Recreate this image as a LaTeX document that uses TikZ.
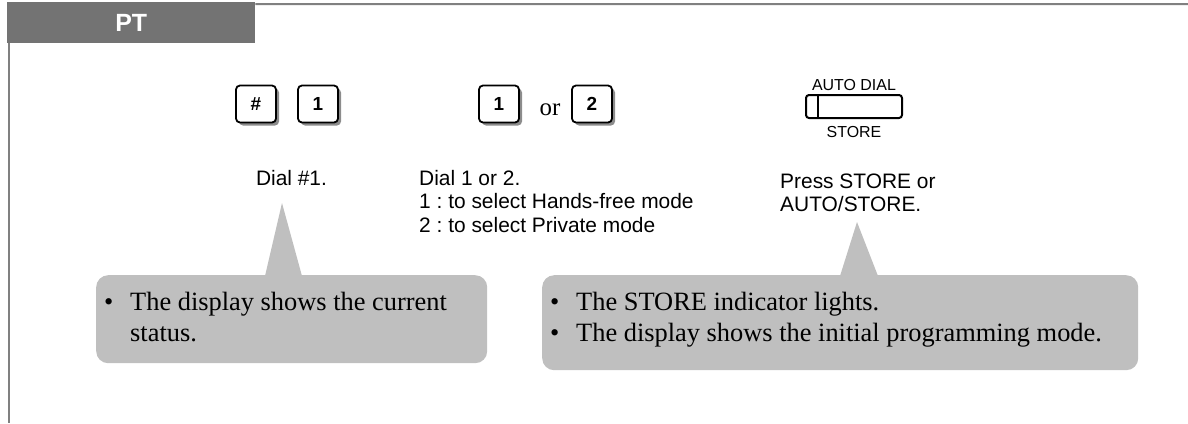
\documentclass[tikz,border=0pt]{standalone}
\usepackage{fontspec}
\setmainfont{Liberation Serif}
\setsansfont{Liberation Sans}
\usepackage{tikz}
\usetikzlibrary{shadows,calc}
\definecolor{headgray}{HTML}{737373}
\definecolor{rulegray}{HTML}{808080}
\definecolor{notegray}{HTML}{BFBFBF}
\definecolor{shadegray}{HTML}{8C8C8C}
\newcommand{\bul}{\makebox[26bp][l]{\textbullet}}
\tikzset{
  key/.style={draw=black, line width=1.8bp, rounded corners=4bp, fill=white, minimum width=40bp, minimum height=37bp, inner sep=0pt, font=\fontsize{19}{19}\selectfont\sffamily\bfseries, drop shadow={shadow xshift=3bp, shadow yshift=-3bp, fill=shadegray, opacity=1}},
  lbl/.style={font=\fontsize{21}{23.5}\selectfont\sffamily, inner sep=0pt},
  small/.style={font=\fontsize{16}{16}\selectfont\sffamily, inner sep=0pt},
  note/.style={fill=notegray, rounded corners=12bp, inner sep=0pt},
  notetxt/.style={font=\fontsize{26.5}{32}\selectfont\rmfamily, inner sep=0pt},
  rule/.style={draw=rulegray, line width=2bp},
}

\begin{document}
\frenchspacing
\begin{tikzpicture}[x=1bp,y=-1bp]
  \useasboundingbox (0,0) rectangle (1188,423);
  % header tab and frame
  \node[fill=headgray, minimum width=248bp, minimum height=41bp, anchor=north west, inner sep=0pt, text=white, font=\fontsize{25}{25}\selectfont\sffamily\bfseries] (head) at (7,2) {PT};
  \draw[rule] ([yshift=-2bp]head.north east) -- (1188,4);
  \draw[rule] ([xshift=2bp]head.south west) -- ++(0,380);
  % keys
  \node[key] (hash) at (256,104) {\#};
  \node[key] (one) at (318,104) {1};
  \node[key] (onebis) at (499,104) {1};
  \node[font=\fontsize{25}{25}\selectfont\rmfamily, inner sep=0pt, anchor=base] (or) at (550,115) {or};
  \node[key] (two) at (592,104) {2};
  % AUTO DIAL / STORE button
  \node[draw, line width=2bp, rounded corners=3bp, minimum width=96bp, minimum height=23bp, inner sep=0pt] (store) at (854,106.5) {};
  \draw[line width=2bp] ([xshift=13bp]store.north west) -- ([xshift=13bp]store.south west);
  \node[small, anchor=base] (autodial) at (854,90) {AUTO DIAL};
  \node[small, anchor=base] (storelbl) at (854,137.5) {STORE};
  % step texts
  \node[lbl, anchor=base] (dial1) at (291.5,185.5) {Dial \#1.};
  \node[lbl, anchor=base west] (dial12) at (419,185.5) {\begin{tabular}[t]{@{}l@{}}Dial 1 or 2.\\1 : to select Hands-free mode\\2 : to select Private mode\end{tabular}};
  \node[lbl, anchor=base west] (press) at (780,188.5) {\begin{tabular}[t]{@{}l@{}}Press STORE or\\AUTO/STORE.\end{tabular}};
  % callouts
  \node[note, minimum width=391bp, minimum height=88bp, anchor=north west] (note1) at (96,275) {};
  \coordinate (tip1) at (282,203);
  \fill[notegray] ($(note1.north west)+(169,1)$) -- (tip1) -- ($(note1.north west)+(206,1)$) -- cycle;
  \node[notetxt, anchor=base west] (note1txt) at (104,310) {\begin{tabular}[t]{@{}l@{}}\bul The display shows the current\\\hspace*{26bp}status.\end{tabular}};
  \node[note, minimum width=596bp, minimum height=95bp, anchor=north west] (note2) at (542,275) {};
  \coordinate (tip2) at (857,222);
  \fill[notegray] ($(note2.north west)+(298,1)$) -- (tip2) -- ($(note2.north west)+(336,1)$) -- cycle;
  \node[notetxt, anchor=base west] (note2txt) at (550,310) {\begin{tabular}[t]{@{}l@{}}\bul The STORE indicator lights.\\\bul The display shows the initial programming mode.\end{tabular}};
\end{tikzpicture}
\end{document}
